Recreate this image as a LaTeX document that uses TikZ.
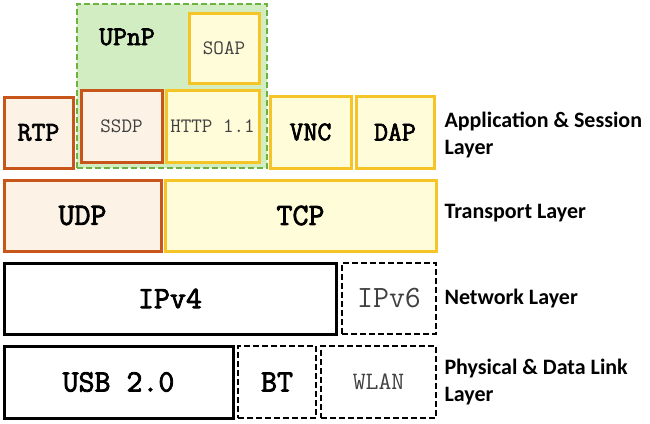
\documentclass[tikz,border=0pt]{standalone}
\usepackage{fontspec}
\setmonofont[AutoFakeBold=2.6]{Latin Modern Mono}
\newfontfamily\layerfont{Carlito}
\usetikzlibrary{positioning}

\definecolor{rustline}{HTML}{C8561B}
\definecolor{rustfill}{HTML}{FCF2E6}
\definecolor{goldline}{HTML}{F5C527}
\definecolor{goldfill}{HTML}{FFFCD9}
\definecolor{upnpline}{HTML}{6DB33F}
\definecolor{upnpfill}{HTML}{D3EDC2}
\definecolor{softtext}{HTML}{404040}

\begin{document}
\begin{tikzpicture}[
    x=1pt, y=-1pt,
    node distance=5pt,
    box/.style={draw, line width=3pt, inner sep=0pt, outer sep=0pt, anchor=north west,
        font=\ttfamily\bfseries\fontsize{31}{33}\selectfont},
    rustbox/.style={box, draw=rustline, fill=rustfill},
    goldbox/.style={box, draw=goldline, fill=goldfill},
    plainbox/.style={box, draw=black, fill=white},
    openbox/.style={box, draw=black, fill=white, line width=2.4pt, dash pattern=on 6pt off 3pt},
    smallbold/.style={font=\ttfamily\bfseries\fontsize{27}{29}\selectfont},
    lighttext/.style={font=\ttfamily\fontsize{20.5}{22}\selectfont, text=softtext},
    layer/.style={anchor=west, align=left, font=\layerfont\bfseries\fontsize{22}{27}\selectfont}
]
\useasboundingbox (0,0) rectangle (650,423);

% application and session layer
\node[draw=upnpline, fill=upnpfill, line width=2.4pt, dash pattern=on 6pt off 3pt,
      minimum width=190pt, minimum height=164pt, anchor=north west] (UPnPArea) at (76,3) {};
\node[smallbold] (UPnP) at (127,37) {UPnP};
\node[goldbox, lighttext, minimum width=70pt, minimum height=70pt] (SOAP) at (189,13) {SOAP};
\node[rustbox, smallbold, minimum width=69pt, minimum height=71pt] (RTP) at (4,97) {RTP};
\node[rustbox, lighttext, minimum width=81pt, minimum height=72pt] (SSDP) at (81,90) {SSDP};
\node[goldbox, lighttext, minimum width=93pt, minimum height=72pt] (HTTP) [right=4pt of SSDP] {HTTP 1.1};
\node[goldbox, smallbold, minimum width=81pt, minimum height=72pt] (VNC) at (270,96) {VNC};
\node[goldbox, smallbold, minimum width=78pt, minimum height=72pt] (DAP) [right=of VNC] {DAP};

% transport layer
\node[rustbox, minimum width=157pt, minimum height=71pt] (UDP) at (4,180) {UDP};
\node[goldbox, minimum width=271pt, minimum height=71pt] (TCP) [right=4pt of UDP] {TCP};

% network layer
\node[plainbox, minimum width=332pt, minimum height=71pt] (IPv4) at (4,263) {IPv4};
\node[openbox, font=\ttfamily\fontsize{31}{33}\selectfont, text=softtext,
      minimum width=94pt, minimum height=71pt] (IPv6) [right=6pt of IPv4] {IPv6};

% physical and data link layer
\node[plainbox, minimum width=229pt, minimum height=72pt] (USB) at (4,346) {USB 2.0};
\node[openbox, minimum width=78pt, minimum height=72pt] (BT) [right=of USB] {BT};
\node[openbox, font=\ttfamily\fontsize{25}{27}\selectfont, text=softtext,
      minimum width=115pt, minimum height=72pt] (WLAN) [right=of BT] {WLAN};

% layer names
\node[layer] (AppLayer) at (441,135) {Application \& Session\\Layer};
\node[layer] (TransLayer) at (441,213) {Transport Layer};
\node[layer] (NetLayer) at (441,299) {Network Layer};
\node[layer] (PhyLayer) at (441,382) {Physical \& Data Link\\Layer};
\end{tikzpicture}
\end{document}
